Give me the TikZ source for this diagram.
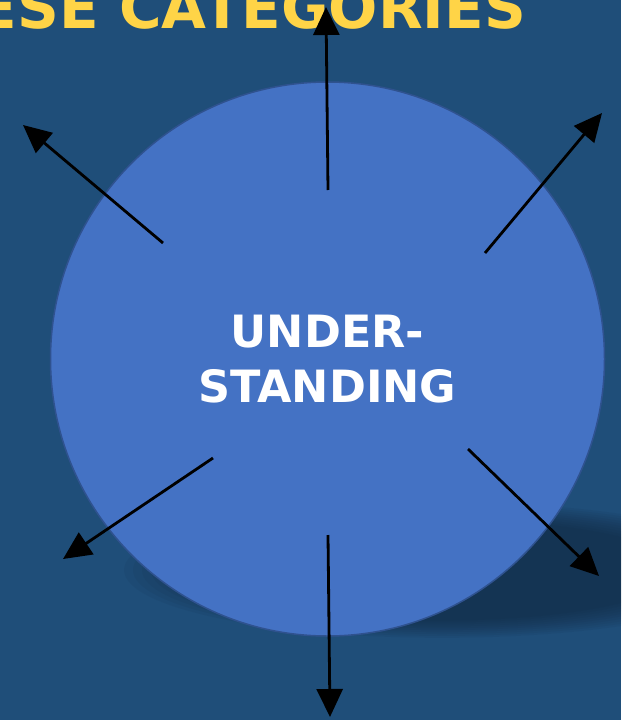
\documentclass[tikz,border=0pt]{standalone}
\usepackage{fontspec}
\newfontfamily\vfont{DejaVu Sans}
\usetikzlibrary{arrows.meta}
\definecolor{bgblue}{HTML}{1F4E79}
\definecolor{circblue}{HTML}{4472C4}
\definecolor{circedge}{HTML}{2F528F}
\definecolor{titleyellow}{HTML}{FFD447}
\definecolor{shadowcol}{HTML}{10253A}
\tikzset{
  ray/.style={line width=2.8pt, -{Triangle[length=28pt,width=26pt]}},
  bigcircle/.style={circle, fill=circblue, draw=circedge, line width=1.5pt, minimum size=554pt, inner sep=0pt,
    align=center, text=white, font=\vfont\bfseries\fontsize{44.5}{55}\selectfont},
  titletext/.style={inner sep=0pt, text=titleyellow, font=\vfont\bfseries\fontsize{58}{60}\selectfont}
}
\begin{document}
\begin{tikzpicture}[x=1pt,y=-1pt]
\useasboundingbox (0,0) rectangle (621,720);
\clip (0,0) rectangle (621,720);
\fill[bgblue] (0,0) rectangle (621,720);
% blurred shadow
\foreach \s in {1.06,1.03,1.0,0.97,0.94,0.91,0.88,0.85,0.82,0.79}{
  \fill[shadowcol, opacity=0.075] (442,570) ellipse ({300*\s} and {64*\s});
}
\node[titletext, anchor=base east] (title) at (526,28.5) {ESE CATEGORIES};
\node[bigcircle] (c) at (327.5,359) {UNDER-\\STANDING};
% ray coordinates
\coordinate (s1) at (328,190);  \coordinate (e1) at (326,7);
\coordinate (s2) at (163,243);  \coordinate (e2) at (23,125);
\coordinate (s3) at (485,253);  \coordinate (e3) at (602,113);
\coordinate (s4) at (213,458);  \coordinate (e4) at (63,559);
\coordinate (s5) at (468,449);  \coordinate (e5) at (599,576);
\coordinate (s6) at (328,535);  \coordinate (e6) at (330,717);
\draw[ray] (s1) -- (e1);
\draw[ray] (s2) -- (e2);
\draw[ray] (s3) -- (e3);
\draw[ray] (s4) -- (e4);
\draw[ray] (s5) -- (e5);
\draw[ray] (s6) -- (e6);
\end{tikzpicture}
\end{document}
